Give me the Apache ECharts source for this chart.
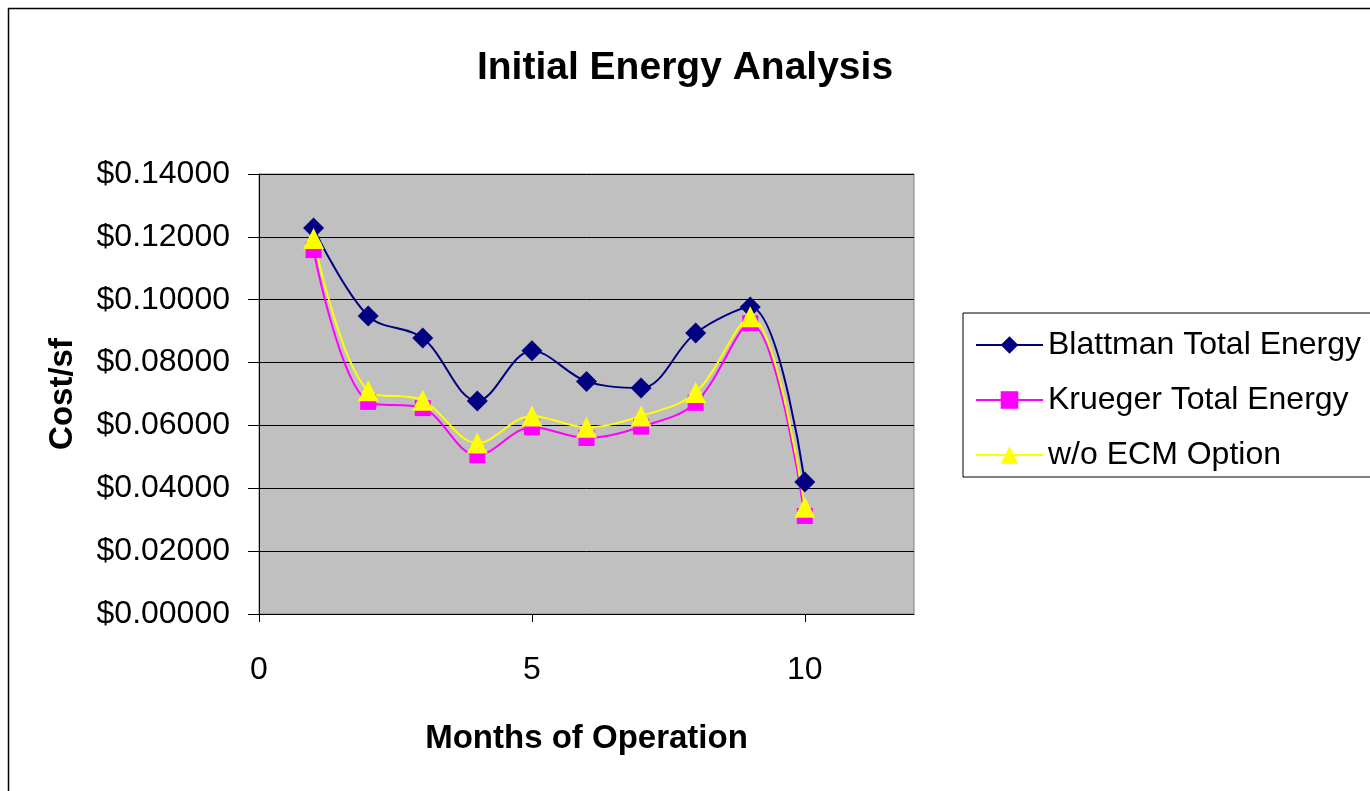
<!DOCTYPE html>
<html>
<head>
<meta charset="utf-8">
<title>Initial Energy Analysis</title>
<script src="https://cdn.jsdelivr.net/npm/echarts@6/dist/echarts.min.js"></script>
<style>
  html, body { margin: 0; padding: 0; background: #fff; }
  #chart-container { width: 1370px; height: 791px; }
</style>
</head>
<body>
<div id="chart-container"></div>
<script>
// values
var months = [1, 2, 3, 4, 5, 6, 7, 8, 9, 10];
var blattman = [0.1228, 0.0948, 0.0878, 0.0678, 0.0838, 0.0740, 0.0719, 0.0894, 0.0977, 0.0420];
var krueger = [0.1158, 0.0675, 0.0655, 0.0505, 0.0594, 0.0560, 0.0596, 0.0672, 0.0925, 0.0312];
var noEcm = [0.1195, 0.0710, 0.0680, 0.0544, 0.0630, 0.0594, 0.0630, 0.0705, 0.0946, 0.0340];
var seriesNames = ['Blattman Total Energy', 'Krueger Total Energy', 'w/o ECM Option'];

function pairs(ys) {
  return months.map(function (m, i) { return [m, ys[i]]; });
}

var dom = document.getElementById('chart-container');
var myChart = echarts.init(dom, null, { renderer: 'canvas' });

var font = '"Liberation Sans", Arial, sans-serif';

var option = {
  animation: false,
  backgroundColor: '#fff',
  textStyle: { fontFamily: font },
  title: {
    text: 'Initial Energy Analysis',
    left: 'center',
    top: 44,
    textStyle: { fontFamily: font, fontSize: 39, fontWeight: 'bold', color: '#000' }
  },
  graphic: [{
    type: 'rect',
    shape: { x: 8.5, y: 8.5, width: 1400, height: 900 },
    style: { fill: 'none', stroke: '#000', lineWidth: 1.5 },
    silent: true
  }],
  legend: {
    orient: 'vertical',
    left: 963,
    top: 313,
    padding: [16, 24, 6, 12],
    itemWidth: 67,
    itemHeight: 22,
    itemGap: 23,
    borderColor: '#000',
    borderWidth: 1,
    textStyle: { fontFamily: font, fontSize: 32, color: '#000' },
    data: seriesNames
  },
  grid: {
    left: 259,
    top: 174,
    right: 456,
    bottom: 177,
    show: true,
    backgroundColor: '#c0c0c0',
    borderColor: '#808080',
    borderWidth: 1
  },
  xAxis: {
    type: 'value',
    min: 0,
    max: 12,
    interval: 5,
    name: 'Months of Operation',
    nameLocation: 'middle',
    nameGap: 108,
    nameTextStyle: { fontFamily: font, fontSize: 33, fontWeight: 'bold', color: '#000', verticalAlign: 'top' },
    axisLine: { lineStyle: { color: '#000', width: 1 } },
    axisTick: { show: true, length: 8, lineStyle: { color: '#000' } },
    axisLabel: { fontFamily: font, fontSize: 32, color: '#000', margin: 40, showMaxLabel: false },
    splitLine: { show: false }
  },
  yAxis: {
    type: 'value',
    min: 0,
    max: 0.14,
    interval: 0.02,
    name: 'Cost/sf',
    nameLocation: 'middle',
    nameGap: 180,
    nameTextStyle: { fontFamily: font, fontSize: 33, fontWeight: 'bold', color: '#000' },
    axisLine: { show: true, lineStyle: { color: '#000', width: 1 } },
    axisTick: { show: true, length: 11, lineStyle: { color: '#000' } },
    axisLabel: {
      fontFamily: font, fontSize: 32, color: '#000', margin: 29,
      formatter: function (v) { return '$' + v.toFixed(5); }
    },
    splitLine: { show: true, lineStyle: { color: '#000', width: 1 } }
  },
  series: [
    {
      name: seriesNames[0],
      type: 'line',
      data: pairs(blattman),
      smooth: 0.35,
      symbol: 'diamond',
      symbolSize: 21,
      lineStyle: { color: '#000080', width: 2 },
      itemStyle: { color: '#000080' }
    },
    {
      name: seriesNames[1],
      type: 'line',
      data: pairs(krueger),
      smooth: 0.35,
      symbol: 'rect',
      symbolSize: 16,
      lineStyle: { color: '#ff00ff', width: 2 },
      itemStyle: { color: '#ff00ff' }
    },
    {
      name: seriesNames[2],
      type: 'line',
      data: pairs(noEcm),
      smooth: 0.35,
      symbol: 'triangle',
      symbolSize: 21,
      lineStyle: { color: '#ffff00', width: 2 },
      itemStyle: { color: '#ffff00' }
    }
  ]
};

myChart.setOption(option);
window.addEventListener('resize', myChart.resize);
</script>
</body>
</html>
